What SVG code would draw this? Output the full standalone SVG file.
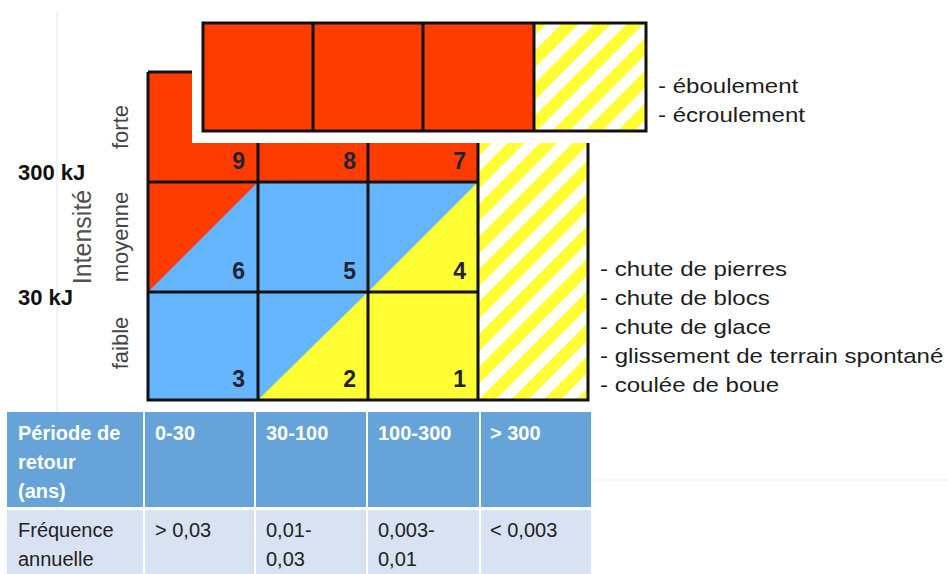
<svg xmlns="http://www.w3.org/2000/svg" width="947" height="574" viewBox="0 0 947 574">
<style>
.red{fill:#FF3C00}.blue{fill:#66B5FF}.yel{fill:#FFFF33}
.ln{stroke:#111;stroke-width:3;fill:none}
.num{font-family:"Liberation Sans",Arial,sans-serif;font-weight:bold;font-size:23px;fill:#222233;text-anchor:end}
.leg{font-family:"Liberation Sans",Arial,sans-serif;font-size:21px;fill:#1e1e1e}
.kj{font-family:"Liberation Sans",Arial,sans-serif;font-weight:bold;font-size:22px;fill:#111}
.axl{font-family:"Liberation Sans",Arial,sans-serif;font-size:22px;fill:#444;text-anchor:middle}
.th{font-family:"Liberation Sans",Arial,sans-serif;font-weight:bold;font-size:20px;fill:#fff}
.td{font-family:"Liberation Sans",Arial,sans-serif;font-size:20px;fill:#222}
.hd{fill:#65A3D8}.bd{fill:#D9E2F3}
</style>
<defs>
<pattern id="hatch" width="23" height="23" patternUnits="userSpaceOnUse" patternTransform="rotate(45)">
<rect width="23" height="23" fill="#fff"/>
<rect width="12" height="23" fill="#FFFF33"/>
</pattern>
</defs>
<rect width="947" height="574" fill="#fff"/>
<line x1="57" y1="11" x2="57" y2="574" stroke="#e4e4e4" stroke-width="1"/>
<line x1="595" y1="480" x2="947" y2="480" stroke="#eeeeee" stroke-width="1"/>

<g id="matrix">
<g id="cell9"><rect class="red" x="148" y="72" width="110" height="110"/><text class="num" x="245" y="169">9</text></g>
<g id="cell8"><rect class="red" x="258" y="72" width="110" height="110"/><text class="num" x="356" y="169">8</text></g>
<g id="cell7"><rect class="red" x="368" y="72" width="110" height="110"/><text class="num" x="466" y="169">7</text></g>
<g id="cell6"><rect class="blue" x="148" y="182" width="110" height="110"/><polygon class="red" points="148,182 258,182 148,292"/><text class="num" x="245" y="279">6</text></g>
<g id="cell5"><rect class="blue" x="258" y="182" width="110" height="110"/><text class="num" x="356" y="279">5</text></g>
<g id="cell4"><rect class="blue" x="368" y="182" width="110" height="110"/><polygon class="yel" points="478,182 478,292 368,292"/><text class="num" x="466" y="279">4</text></g>
<g id="cell3"><rect class="blue" x="148" y="292" width="110" height="108"/><text class="num" x="245" y="387">3</text></g>
<g id="cell2"><rect class="blue" x="258" y="292" width="110" height="108"/><polygon class="yel" points="368,292 368,400 258,400"/><text class="num" x="356" y="387">2</text></g>
<g id="cell1"><rect class="yel" x="368" y="292" width="110" height="108"/><text class="num" x="466" y="387">1</text></g>
<g id="cellH"><rect fill="url(#hatch)" x="478" y="72" width="110" height="328"/></g>
<path class="ln" d="M148,72 V400 H588 V143 M148,72 H192 M148,182 H478 M148,292 H478 M258,143 V400 M368,143 V400 M478,143 V400"/>
</g>

<g id="overlay">
<rect x="192" y="10" width="470" height="133" fill="#fff"/>
<rect class="red" x="203" y="23" width="331" height="108"/>
<rect fill="url(#hatch)" x="534" y="23" width="112" height="108"/>
<path class="ln" d="M203,23 H646 V131 H203 Z M313,23 V131 M423,23 V131 M534,23 V131"/>
</g>

<g id="legend-top" transform="translate(658,0) scale(1.145,1)">
<text class="leg" x="0" y="93">- éboulement</text>
<text class="leg" x="0" y="122">- écroulement</text>
</g>
<g id="legend-bottom" transform="translate(600,0) scale(1.145,1)">
<text class="leg" x="0" y="276">- chute de pierres</text>
<text class="leg" x="0" y="305">- chute de blocs</text>
<text class="leg" x="0" y="334">- chute de glace</text>
<text class="leg" x="0" y="363">- glissement de terrain spontané</text>
<text class="leg" x="0" y="392">- coulée de boue</text>
</g>

<g id="axis">
<text class="kj" x="18" y="180">300 kJ</text>
<text class="kj" x="18" y="305">30 kJ</text>
<text class="axl" style="font-size:25px;fill:#505050" transform="translate(91,237) rotate(-90)">Intensité</text>
<text class="axl" transform="translate(128,127) rotate(-90)">forte</text>
<text class="axl" transform="translate(128,237) rotate(-90)">moyenne</text>
<text class="axl" transform="translate(128,343) rotate(-90)">faible</text>
</g>

<g id="table">
<rect class="hd" x="7" y="412" width="136" height="95"/>
<rect class="hd" x="145" y="412" width="109" height="95"/>
<rect class="hd" x="256" y="412" width="110" height="95"/>
<rect class="hd" x="368" y="412" width="111" height="95"/>
<rect class="hd" x="481" y="412" width="110" height="95"/>
<rect class="bd" x="7" y="510" width="136" height="64"/>
<rect class="bd" x="145" y="510" width="109" height="64"/>
<rect class="bd" x="256" y="510" width="110" height="64"/>
<rect class="bd" x="368" y="510" width="111" height="64"/>
<rect class="bd" x="481" y="510" width="110" height="64"/>
<text class="th" x="18" y="440">Période de</text>
<text class="th" x="18" y="469">retour</text>
<text class="th" x="18" y="498">(ans)</text>
<text class="th" x="155" y="440">0-30</text>
<text class="th" x="266" y="440">30-100</text>
<text class="th" x="378" y="440">100-300</text>
<text class="th" x="490" y="440">&gt; 300</text>
<text class="td" x="18" y="537">Fréquence</text>
<text class="td" x="18" y="566">annuelle</text>
<text class="td" x="155" y="537">&gt; 0,03</text>
<text class="td" x="266" y="537">0,01-</text>
<text class="td" x="266" y="566">0,03</text>
<text class="td" x="378" y="537">0,003-</text>
<text class="td" x="378" y="566">0,01</text>
<text class="td" x="490" y="537">&lt; 0,003</text>
</g>
</svg>
